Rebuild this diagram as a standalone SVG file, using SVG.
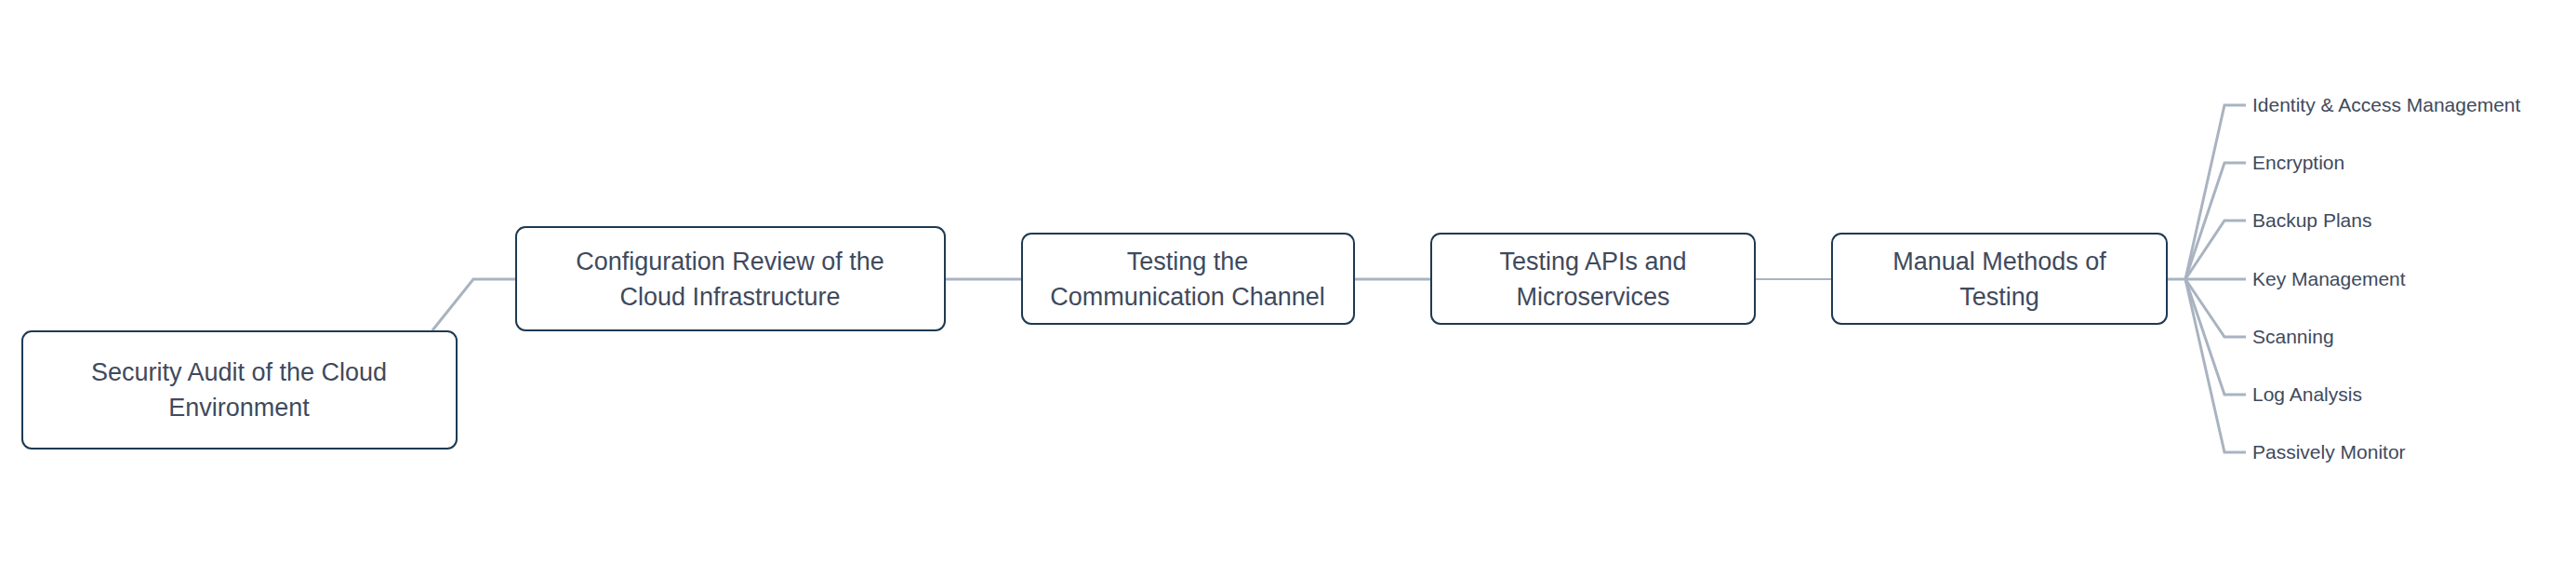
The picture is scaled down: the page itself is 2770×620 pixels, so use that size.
<svg xmlns="http://www.w3.org/2000/svg" width="2770" height="620" viewBox="0 0 2770 620">
<style>
.n{fill:#fff;stroke:#1e3a52;stroke-width:2}
.t{font-family:"Liberation Sans",Arial,sans-serif;font-size:27px;fill:#3f4a5c;text-anchor:middle}
.l{font-family:"Liberation Sans",Arial,sans-serif;font-size:21px;fill:#3f4a5c}
.c{fill:none;stroke:#a9b3c1;stroke-width:3}
</style>
<rect width="2770" height="620" fill="#fff"/>
<g id="connectors">
<path class="c" d="M465 355 L509 300 L555 300"/>
<path class="c" d="M1016 300 L1099 300"/>
<path class="c" d="M1456 300 L1539 300"/>
<path class="c" d="M1887 300 L1970 300" style="stroke-width:2"/>
<path class="c" d="M2331 300 L2350 300"/>
<path class="c" d="M2350 300 L2392 113 L2415 113"/>
<path class="c" d="M2350 300 L2392 175 L2415 175"/>
<path class="c" d="M2350 300 L2392 237 L2415 237"/>
<path class="c" d="M2350 300 L2415 300"/>
<path class="c" d="M2350 300 L2392 362 L2415 362"/>
<path class="c" d="M2350 300 L2392 424 L2415 424"/>
<path class="c" d="M2350 300 L2392 486 L2415 486"/>
</g>
<g id="root"><rect class="n" x="24" y="356" width="467" height="126" rx="10"/>
<text class="t" x="257" y="409">Security Audit of the Cloud</text><text class="t" x="257" y="447">Environment</text></g>
<g id="config"><rect class="n" x="555" y="244" width="461" height="111" rx="10"/>
<text class="t" x="785" y="290">Configuration Review of the</text><text class="t" x="785" y="328">Cloud Infrastructure</text></g>
<g id="comm"><rect class="n" x="1099" y="251" width="357" height="97" rx="10"/>
<text class="t" x="1277" y="290">Testing the</text><text class="t" x="1277" y="328">Communication Channel</text></g>
<g id="apis"><rect class="n" x="1539" y="251" width="348" height="97" rx="10"/>
<text class="t" x="1713" y="290">Testing APIs and</text><text class="t" x="1713" y="328">Microservices</text></g>
<g id="manual"><rect class="n" x="1970" y="251" width="360" height="97" rx="10"/>
<text class="t" x="2150" y="290">Manual Methods of</text><text class="t" x="2150" y="328">Testing</text></g>
<g id="leaf1"><text class="l" x="2422" y="120">Identity &amp; Access Management</text></g>
<g id="leaf2"><text class="l" x="2422" y="182">Encryption</text></g>
<g id="leaf3"><text class="l" x="2422" y="244">Backup Plans</text></g>
<g id="leaf4"><text class="l" x="2422" y="307">Key Management</text></g>
<g id="leaf5"><text class="l" x="2422" y="369">Scanning</text></g>
<g id="leaf6"><text class="l" x="2422" y="431">Log Analysis</text></g>
<g id="leaf7"><text class="l" x="2422" y="493">Passively Monitor</text></g>
</svg>
